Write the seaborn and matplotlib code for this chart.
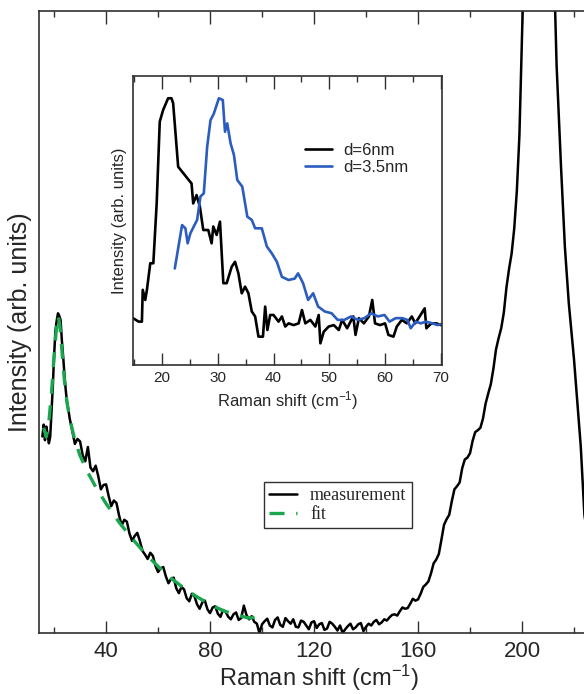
import numpy as np
import pandas as pd
import matplotlib
matplotlib.use("Agg")
import matplotlib.pyplot as plt
from matplotlib.ticker import MultipleLocator, NullLocator
import seaborn as sns

# ---------------- data: main spectrum (measurement) ----------------
meas_x_low = [15.5, 16.0, 16.5, 17.0, 17.5, 18.0, 18.5, 19.0, 19.5, 20.0, 20.5,
              21.0, 21.5, 22.0, 22.5, 23.0, 23.5, 24.0, 24.5, 25.0, 25.5, 26.0]
meas_y_low = [31.6, 33.5, 31.0, 33.2, 32.0, 30.5, 31.5, 35.4, 39.5, 44.5, 48.5,
              50.2, 51.4, 51.0, 50.3, 47.0, 44.4, 41.5, 39.0, 37.0, 35.9, 34.5]
meas_x_odd = list(range(27, 200, 2))
meas_y_odd = [32.5, 31.2, 28.6, 29.9, 26.0, 25.2, 23.8, 22.0, 21.3, 18.9,
              18.2, 16.0, 15.6, 14.8, 12.6, 12.9, 10.8, 10.4, 9.1, 8.7,
              7.2, 7.4, 5.6, 6.3, 4.6, 4.9, 3.8, 4.1, 3.1, 3.7,
              2.6, 3.0, 2.1, 4.4, 2.2, 1.8, 0.0, 1.9, 1.2, 2.1,
              1.3, 2.4, 1.5, 1.0, 2.0, 1.2, 1.7, 0.8, 1.6, 0.7,
              1.5, 0.4, 0.0, 1.1, 0.6, 1.4, 0.3, 1.5, 1.8, 1.4,
              2.2, 2.5, 3.0, 3.5, 3.9, 4.7, 5.2, 6.3, 7.8, 9.6,
              11.8, 15.0, 18.3, 21.2, 23.6, 26.5, 28.2, 30.9, 32.6, 34.5,
              38.5, 42.5, 47.4, 51.5, 58.5, 65.0, 80.0]
meas_x_even = list(range(28, 199, 2))
meas_y_even = [30.4, 30.8, 27.6, 26.6, 26.9, 23.1, 23.9, 20.4, 20.9, 17.3,
               17.9, 14.8, 16.1, 13.2, 11.9, 12.4, 9.8, 10.6, 8.0, 8.9,
               6.4, 7.0, 5.1, 5.9, 3.9, 5.2, 3.2, 4.3, 2.6, 3.4,
               2.2, 3.3, 2.4, 2.9, 2.7, 1.5, 1.4, 2.3, 0.9, 2.5,
               1.0, 1.9, 2.2, 0.9, 1.8, 0.6, 1.9, 1.4, 0.5, 1.8,
               1.0, 1.2, 0.6, 1.5, 0.9, 1.6, 1.0, 1.2, 2.1, 1.7,
               2.0, 2.9, 2.8, 4.1, 4.0, 5.5, 5.4, 7.4, 8.3, 11.2,
               12.7, 17.4, 19.0, 23.1, 24.2, 27.9, 28.9, 32.3, 33.0, 36.9,
               40.0, 45.6, 49.0, 55.5, 61.0, 71.0]
meas_x_peak = [200.5, 202, 204, 206, 208, 210, 212, 213.3, 215, 216.5, 218,
               220, 222.6, 224, 226, 228, 230]
meas_y_peak = [104, 125, 140, 150, 148, 135, 112, 91.3, 75, 62, 53,
               44, 30, 19, 13, 10, 8]

# ---------------- data: fit ----------------
fit_x = [16.0, 17.0, 18.0, 19.0, 20.0, 21.0, 21.6, 22.2, 23.0, 24.0, 25.0,
         26.0, 28.0, 30.0, 33.0, 36.0, 40.0, 45.0, 50.0, 55.0, 60.0, 65.0,
         70.0, 75.0, 80.0, 85.0, 90.0, 95.0, 99.0]
fit_y = [33.0, 31.5, 34.0, 38.5, 44.5, 49.5, 51.0, 49.5, 45.5, 40.5, 37.0,
         34.5, 31.0, 28.5, 25.8, 23.5, 20.8, 17.8, 15.2, 12.8, 10.7, 8.8,
         7.2, 5.8, 4.6, 3.6, 2.9, 2.4, 2.6]

# ---------------- data: inset ----------------
d6_x = [14.9, 15.8, 16.4, 16.55, 17.0, 17.3, 17.9, 18.45, 19.05, 19.6, 20.2,
        21.1, 21.7, 22.0, 22.9, 24.1, 25.3, 25.6, 26.2, 26.8, 27.4, 28.3,
        28.9, 29.2, 29.8, 30.4, 31.0, 31.6, 32.5, 33.1, 33.7, 34.3, 34.9,
        35.5, 36.1, 36.7, 37.3, 38.1, 38.5, 38.9, 39.4, 40.0, 40.9, 41.5,
        42.1, 42.7, 43.6, 44.5, 45.1, 45.7, 46.6, 47.5, 48.1, 48.4, 49.0,
        49.9, 50.8, 51.7, 52.3, 53.2, 53.8, 54.3, 54.7, 55.3, 56.2, 57.1,
        57.7, 58.2, 59.1, 60.0, 60.6, 61.5, 62.1, 63.0, 63.9, 64.8, 65.4,
        66.2, 67.1, 67.4, 68.3, 69.2, 70.0]
d6_y = [16.1, 15.0, 15.0, 26.0, 22.5, 26.0, 35.2, 35.2, 55.9, 84.2, 88.2,
        92.3, 92.3, 90.6, 68.6, 65.7, 62.8, 55.9, 58.8, 54.7, 46.7, 46.7,
        42.1, 47.9, 45.0, 49.6, 28.3, 28.3, 34.0, 35.7, 31.7, 24.8, 27.1,
        24.8, 18.5, 16.8, 9.8, 9.8, 20.2, 12.1, 17.3, 17.3, 15.0, 16.8,
        13.3, 14.4, 13.8, 14.4, 19.0, 14.4, 15.6, 13.3, 17.3, 7.5, 11.5,
        13.3, 13.8, 12.1, 15.6, 12.7, 15.0, 16.8, 10.4, 16.2, 14.4, 16.8,
        22.5, 14.4, 13.8, 14.4, 10.4, 9.8, 13.3, 15.6, 14.4, 16.8, 14.4,
        16.8, 19.6, 12.7, 14.4, 14.4, 13.8]
d35_x = [22.3, 23.0, 23.6, 24.2, 24.6, 25.1, 25.7, 26.3, 26.9, 27.5, 28.1,
         28.7, 29.3, 30.2, 30.9, 31.3, 31.7, 32.3, 32.9, 33.5, 34.4, 35.3,
         36.1, 36.7, 37.9, 38.8, 39.7, 40.6, 41.5, 42.7, 43.8, 44.4, 45.3,
         46.2, 47.1, 48.0, 49.2, 50.4, 51.5, 52.7, 53.9, 55.1, 56.3, 57.5,
         58.7, 59.9, 60.8, 61.9, 63.1, 64.0, 64.6, 65.5, 66.4, 67.3, 68.5,
         69.4, 70.0]
d35_y = [33.4, 41.5, 48.4, 47.3, 42.1, 45.6, 47.9, 50.2, 58.3, 59.4, 75.5,
         84.7, 87.0, 92.3, 91.7, 80.7, 83.6, 76.7, 72.7, 64.0, 61.7, 51.3,
         50.2, 47.3, 47.3, 41.0, 38.6, 35.7, 30.5, 29.4, 29.9, 31.7, 28.3,
         22.5, 24.8, 20.2, 18.5, 17.9, 15.6, 15.6, 16.8, 15.6, 16.2, 17.9,
         16.8, 17.3, 15.0, 16.2, 16.2, 15.6, 12.7, 15.0, 14.4, 15.0, 14.4,
         13.8, 14.2]

# ---------------- text ----------------
main_xlabel = "Raman shift (cm$^{-1}$)"
main_ylabel = "Intensity (arb. units)"
legend_labels = ["measurement", "fit"]
inset_labels = ["d=6nm", "d=3.5nm"]

meas = pd.DataFrame({"x": meas_x_low + meas_x_odd + meas_x_even + meas_x_peak,
                     "y": meas_y_low + meas_y_odd + meas_y_even + meas_y_peak})
meas = meas.sort_values("x").reset_index(drop=True)
fit = pd.DataFrame({"x": fit_x, "y": fit_y})
d6 = pd.DataFrame({"x": d6_x, "y": d6_y})
d35 = pd.DataFrame({"x": d35_x, "y": d35_y})

sns.set_style("ticks")
plt.rcParams["font.family"] = ["Liberation Sans", "DejaVu Sans"]
plt.rcParams["mathtext.fontset"] = "custom"
plt.rcParams["mathtext.rm"] = "Liberation Sans"
plt.rcParams["mathtext.it"] = "Liberation Sans:italic"

SPINE = "#303030"
fig = plt.figure(figsize=(5.84, 6.94), dpi=100)
ax = fig.add_axes([0.06678, 0.08790, 0.96062, 0.89625])

sns.lineplot(data=meas, x="x", y="y", ax=ax, color="black", lw=1.8,
             estimator=None, sort=False, label=legend_labels[0])
sns.lineplot(data=fit, x="x", y="y", ax=ax, color="#1aa64e", lw=2.4,
             estimator=None, sort=False, label=legend_labels[1])
ax.lines[1].set_dashes((4.5, 3.5))

ax.set_xlim(14.2, 230)
ax.set_ylim(0, 100)
ax.xaxis.set_major_locator(MultipleLocator(40))
ax.xaxis.set_minor_locator(MultipleLocator(20))
ax.yaxis.set_major_locator(NullLocator())
ax.tick_params(axis="x", which="both", direction="in", top=True, bottom=True,
               color=SPINE, width=1.0, labelsize=16, pad=6)
ax.tick_params(axis="x", which="major", length=9)
ax.tick_params(axis="x", which="minor", length=4.5)
ax.tick_params(axis="y", left=False, right=False, labelleft=False)
for s in ["left", "bottom", "top"]:
    ax.spines[s].set_color(SPINE)
    ax.spines[s].set_linewidth(1.2)
ax.spines["right"].set_visible(False)
ax.set_xlabel(main_xlabel, fontsize=17, labelpad=0)
ax.set_ylabel(main_ylabel, fontsize=18, labelpad=5)

leg = ax.legend(loc="upper left", bbox_to_anchor=(0.401, 0.243), borderaxespad=0,
                frameon=True, fancybox=False, edgecolor=SPINE, framealpha=1,
                prop={"family": "Liberation Serif", "size": 13},
                handlelength=1.55, handletextpad=0.7, labelspacing=0.1,
                borderpad=0.3)
leg.get_frame().set_linewidth(1.0)

# ---------------- inset ----------------
ins = fig.add_axes([0.2277, 0.4741, 0.5291, 0.4164])
sns.lineplot(data=d6, x="x", y="y", ax=ins, color="black", lw=1.9,
             estimator=None, sort=False, label=inset_labels[0])
sns.lineplot(data=d35, x="x", y="y", ax=ins, color="#2b5cbf", lw=1.9,
             estimator=None, sort=False, label=inset_labels[1])
ins.set_xlim(14.8, 70.2)
ins.set_ylim(0, 100)
ins.xaxis.set_major_locator(MultipleLocator(10))
ins.xaxis.set_minor_locator(MultipleLocator(5))
ins.yaxis.set_major_locator(NullLocator())
ins.tick_params(axis="x", which="both", direction="in", top=True, bottom=True,
                color=SPINE, width=1.0, labelsize=11, pad=4)
ins.tick_params(axis="x", which="major", length=9)
ins.tick_params(axis="x", which="minor", length=4.5)
ins.tick_params(axis="y", left=False, right=False, labelleft=False)
for s in ins.spines.values():
    s.set_color(SPINE)
    s.set_linewidth(1.2)
ins.set_xlabel(main_xlabel, fontsize=12, labelpad=3)
ins.set_ylabel(main_ylabel, fontsize=12, labelpad=4)
ins.legend(loc="upper left", bbox_to_anchor=(0.557, 0.768), borderaxespad=0,
           frameon=False, prop={"size": 12}, handlelength=1.6,
           handletextpad=0.66, labelspacing=0.1, borderpad=0)

fig.savefig("out.png", dpi=100)
